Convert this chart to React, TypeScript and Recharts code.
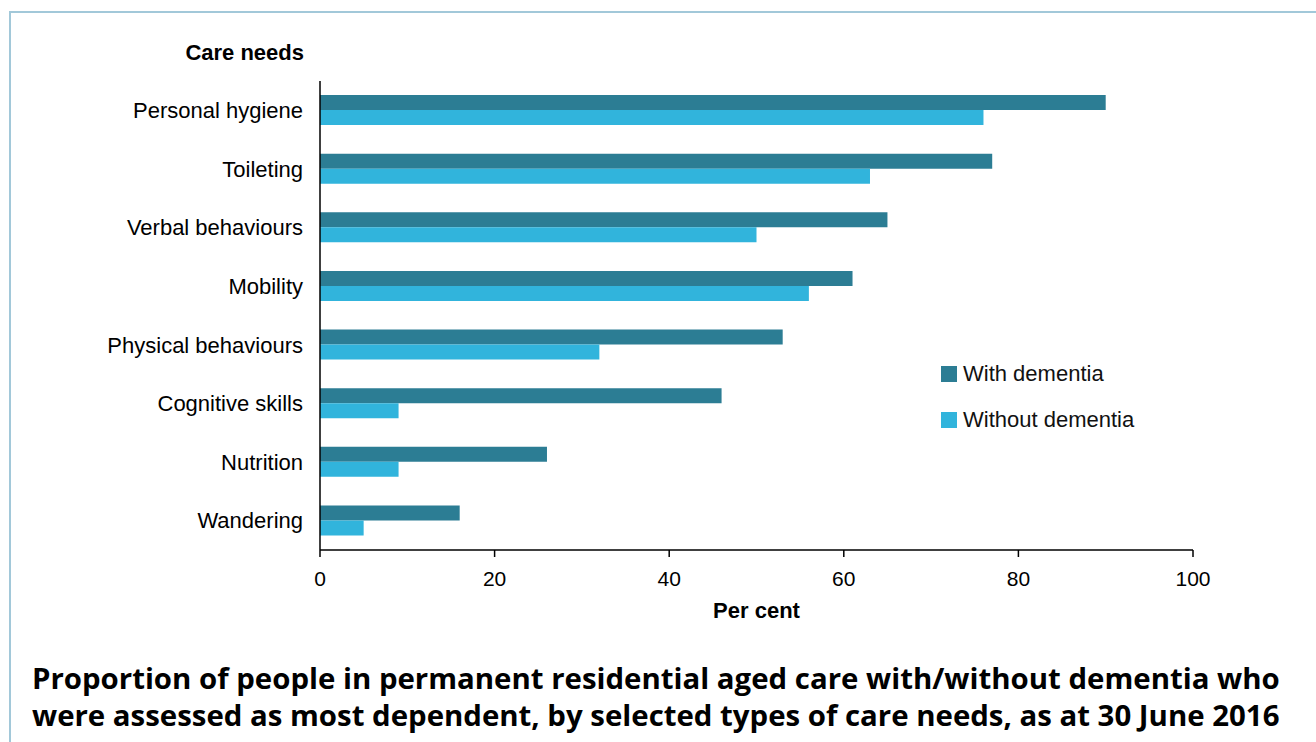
import { BarChart, Bar, XAxis, YAxis, Legend } from 'recharts';

// care needs, top to bottom
const categories = [
  'Personal hygiene',
  'Toileting',
  'Verbal behaviours',
  'Mobility',
  'Physical behaviours',
  'Cognitive skills',
  'Nutrition',
  'Wandering',
];
const withDementia = [90, 77, 65, 61, 53, 46, 26, 16];
const withoutDementia = [76, 63, 50, 56, 32, 9, 9, 5];
const xTicks = [0, 20, 40, 60, 80, 100];

const data = categories.map((name, i) => ({
  name,
  with: withDementia[i],
  without: withoutDementia[i],
}));

const FONT = '"Liberation Sans", Arial, sans-serif';
const DARK = '#2c7d94';
const LIGHT = '#31b4dc';

const renderLegend = (props: any) => {
  const { payload } = props;
  return (
    <div>
      {payload.map((entry: any) => (
        <div key={entry.value} style={{ display: 'flex', alignItems: 'center', height: 46 }}>
          <span style={{ width: 16, height: 16, background: entry.color, display: 'inline-block', marginRight: 6 }} />
          <span style={{ fontSize: 22, color: '#111', fontFamily: FONT }}>{entry.value}</span>
        </div>
      ))}
    </div>
  );
};

export default function App() {
  return (
    <div style={{ position: 'absolute', left: 0, top: 0, width: 1316, height: 742, overflow: 'hidden', background: '#fff' }}>
      <div
        style={{
          position: 'absolute',
          left: 9,
          top: 11,
          width: 1400,
          height: 800,
          border: '2px solid #a2c8d9',
        }}
      />
      <div
        style={{
          position: 'absolute',
          right: 1316 - 304,
          top: 40,
          fontFamily: FONT,
          fontWeight: 'bold',
          fontSize: 22,
          color: '#000',
          whiteSpace: 'nowrap',
        }}
      >
        Care needs
      </div>
      <div style={{ position: 'absolute', left: 0, top: 0 }}>
        <BarChart
          width={1316}
          height={640}
          data={data}
          layout="vertical"
          margin={{ top: 81, right: 123, bottom: 0, left: 20 }}
          barSize={15}
          barGap={0}
          style={{ fontFamily: FONT }}
        >
          <XAxis
            type="number"
            domain={[0, 100]}
            ticks={xTicks}
            height={90}
            axisLine={{ stroke: '#000', strokeWidth: 1.5 }}
            tickLine={{ stroke: '#000', strokeWidth: 1.5 }}
            tickSize={7}
            tickMargin={14.5}
            tick={{ fontSize: 21, fill: '#000' }}
            label={{ value: 'Per cent', position: 'insideBottom', offset: 22, style: { fontWeight: 'bold', fontSize: 22, fill: '#000' } }}
          />
          <YAxis
            type="category"
            dataKey="name"
            width={300}
            axisLine={{ stroke: '#000', strokeWidth: 1.5 }}
            tickLine={false}
            tickSize={0}
            tickMargin={17}
            tick={{ fontSize: 22, fill: '#000' }}
            interval={0}
          />
          <Legend
            layout="vertical"
            align="center"
            verticalAlign="middle"
            content={renderLegend}
            wrapperStyle={{ left: 941, top: 351, width: 260 }}
          />
          <Bar dataKey="with" name="With dementia" fill={DARK} isAnimationActive={false} />
          <Bar dataKey="without" name="Without dementia" fill={LIGHT} isAnimationActive={false} />
        </BarChart>
      </div>
      <div
        style={{
          position: 'absolute',
          left: 32,
          top: 660,
          fontFamily: '"Open Sans", sans-serif',
          fontWeight: 'bold',
          fontSize: 29.4,
          lineHeight: '37px',
          color: '#000',
          whiteSpace: 'nowrap',
        }}
      >
        Proportion of people in permanent residential aged care with/without dementia who
        <br />
        were assessed as most dependent, by selected types of care needs, as at 30 June 2016
      </div>
    </div>
  );
}
